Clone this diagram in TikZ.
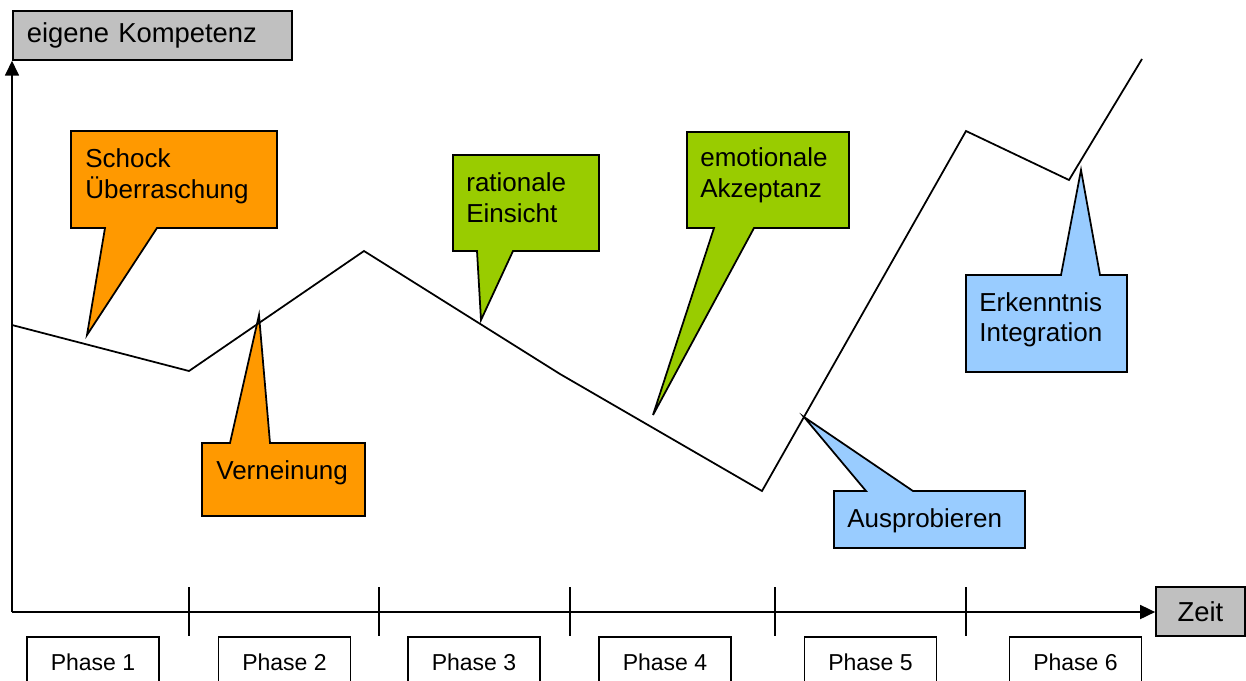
\documentclass[tikz,border=0pt]{standalone}
\usepackage{fontspec}
\setmainfont{Liberation Sans}
\usetikzlibrary{arrows.meta}
\definecolor{corange}{HTML}{FF9900}
\definecolor{cgreen}{HTML}{99CC00}
\definecolor{cblue}{HTML}{99CCFF}
\definecolor{cgray}{HTML}{C0C0C0}
\begin{document}
\begin{tikzpicture}[x=0.02cm,y=-0.02cm, line join=miter,
  ln/.style={line width=1pt},
  callout/.style={draw=black, line width=1pt},
  ctext/.style={anchor=base west, inner sep=0pt, font=\fontsize{14.8}{17.6}\selectfont},
  axlabel/.style={draw, fill=cgray, line width=1pt, font=\fontsize{15.6}{18}\selectfont, inner sep=0pt},
  phasebox/.style={draw, line width=1pt, anchor=north, minimum width=2.64cm, minimum height=1.0cm, inner sep=0pt, font=\fontsize{13.1}{15}\selectfont},
  tickmark/.style={line width=1pt},
  axis/.style={line width=1pt, -{Triangle[length=0.3cm,width=0.28cm]}}
]
\useasboundingbox (0,0) rectangle (1246,680);
\clip (0,0) rectangle (1246,680);

% labels of the axes
\node[axlabel, anchor=north west, minimum height=0.98cm, text width=5.02cm, inner xsep=0.28cm, align=left] (komp) at (12,10) {eigene Kompetenz};
\node[axlabel, minimum width=1.78cm, minimum height=0.98cm] (zeit) at (1200.5,611.5) {Zeit};

% axes
\coordinate (o) at (12,612);
\draw[axis] (o) -- (komp.south west);
\draw[axis] (o) -- (o -| zeit.west);

% ticks
\foreach \x in {189,379,570,775,966} \draw[tickmark] (\x,587) -- (\x,636);

% phase boxes
\foreach \c/\n in {93/1, 284.5/2, 474/3, 665/4, 870.5/5, 1075.5/6}
  \node[phasebox] (p\n) at (\c,636) {Phase \n};

% callouts
\filldraw[callout, fill=corange] (71,131) -- (277,131) -- (277,228) -- (157,228) -- (87,335) -- (105,228) -- (71,228) -- cycle;
\filldraw[callout, fill=corange] (202,443) -- (230,443) -- (259,315) -- (270,443) -- (365,443) -- (365,516) -- (202,516) -- cycle;
\filldraw[callout, fill=cgreen] (453,155) -- (599,155) -- (599,251) -- (513,251) -- (481,320) -- (477,251) -- (453,251) -- cycle;
\filldraw[callout, fill=cgreen] (687,132) -- (849,132) -- (849,228) -- (754,228) -- (653,415) -- (714,228) -- (687,228) -- cycle;
\filldraw[callout, fill=cblue] (834,491) -- (866,491) -- (804,417) -- (913,491) -- (1025,491) -- (1025,548) -- (834,548) -- cycle;
\filldraw[callout, fill=cblue] (966,275) -- (1061,275) -- (1081,170) -- (1100,275) -- (1127,275) -- (1127,372) -- (966,372) -- cycle;

% competence curve
\draw[ln] (12,325) -- (189,371) -- (364,251) -- (560,374) -- (762,491) -- (966,131) -- (1069,180) -- (1142,59);

% callout texts
\node[ctext] (t1a) at (85,167) {Schock};
\node[ctext] (t1b) at (85,198) {Überraschung};
\node[ctext] (t2) at (216,479) {Verneinung};
\node[ctext] (t3a) at (466,191) {rationale};
\node[ctext] (t3b) at (466,222) {Einsicht};
\node[ctext] (t4a) at (700,166) {emotionale};
\node[ctext] (t4b) at (700,197) {Akzeptanz};
\node[ctext] (t5) at (847,527) {Ausprobieren};
\node[ctext] (t6a) at (979,311) {Erkenntnis};
\node[ctext] (t6b) at (979,341) {Integration};
\end{tikzpicture}
\end{document}
